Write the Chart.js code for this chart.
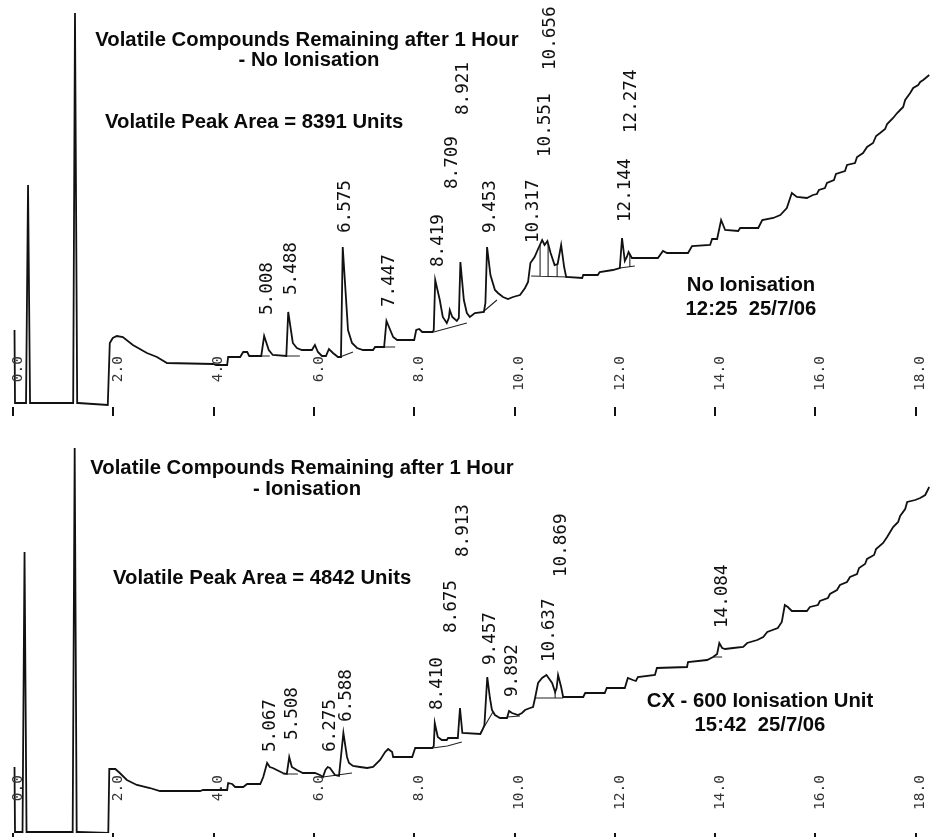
<!DOCTYPE html>
<html>
<head>
<meta charset="utf-8">
<script src="https://cdn.jsdelivr.net/npm/chart.js@4.4.1/dist/chart.umd.min.js"></script>
<style>
  html, body { margin: 0; padding: 0; background: #fff; overflow: hidden; }
  #page { position: relative; width: 930px; height: 837px; overflow: hidden; background: #fff; }
  canvas { position: absolute; left: 0; }
  .t { position: absolute; font: bold 20.3px "Liberation Sans", Arial, sans-serif; line-height: 20.3px; color: #0a0a0a; white-space: pre; }
  .c { width: 600px; text-align: center; }
</style>
</head>
<body>
<div id="page">
  <canvas id="runA" width="930" height="420" style="top:0"></canvas>
  <canvas id="runB" width="930" height="427" style="top:420px"></canvas>

  <div class="t c" style="left:7px;top:29px">Volatile Compounds Remaining after 1 Hour</div>
  <div class="t c" style="left:9px;top:49px">- No Ionisation</div>
  <div class="t" style="left:105px;top:111px">Volatile Peak Area = 8391 Units</div>
  <div class="t c" style="left:451px;top:274px">No Ionisation</div>
  <div class="t c" style="left:451px;top:298px">12:25  25/7/06</div>

  <div class="t c" style="left:2px;top:457px">Volatile Compounds Remaining after 1 Hour</div>
  <div class="t c" style="left:7px;top:478px">- Ionisation</div>
  <div class="t" style="left:113px;top:567px">Volatile Peak Area = 4842 Units</div>
  <div class="t c" style="left:460px;top:690px">CX - 600 Ionisation Unit</div>
  <div class="t c" style="left:460px;top:714px">15:42  25/7/06</div>
</div>

<script>
// Retention-time axis (minutes)
const timeTicks = [0, 2, 4, 6, 8, 10, 12, 14, 16, 18];

// Run A: no ionisation, 12:25 25/7/06
const runATime = [
  0.03, 0.04, 0.26, 0.30, 0.34, 1.20, 1.236, 1.28, 1.30, 1.89,
  1.93, 1.99, 2.07, 2.19, 2.39, 2.67, 2.87, 3.07, 3.99, 4.05,
  4.27, 4.29, 4.53, 4.59, 4.67, 4.71, 4.95, 5.008, 5.10, 5.18,
  5.45, 5.488, 5.58, 5.66, 5.76, 5.96, 6.02, 6.08, 6.16, 6.24,
  6.30, 6.38, 6.48, 6.54, 6.575, 6.68, 6.76, 6.86, 6.98, 7.18,
  7.22, 7.40, 7.447, 7.58, 7.66, 8.00, 8.04, 8.10, 8.16, 8.37,
  8.39, 8.419, 8.51, 8.57, 8.65, 8.69, 8.709, 8.76, 8.85, 8.89,
  8.921, 8.99, 9.05, 9.11, 9.21, 9.39, 9.42, 9.453, 9.52, 9.61,
  9.67, 9.77, 9.87, 9.97, 10.11, 10.21, 10.27, 10.317, 10.40, 10.47,
  10.551, 10.60, 10.656, 10.72, 10.80, 10.86, 10.93, 10.99, 11.03, 11.35,
  11.37, 11.66, 11.70, 11.96, 12.10, 12.144, 12.20, 12.24, 12.274, 12.34,
  12.86, 12.96, 13.04, 13.46, 13.54, 13.90, 13.94, 14.04, 14.12, 14.20,
  14.46, 14.50, 14.86, 14.94, 15.16, 15.30, 15.43, 15.53, 15.63, 15.83,
  15.95, 16.03, 16.07, 16.19, 16.23, 16.37, 16.41, 16.59, 16.63, 16.79,
  16.83, 16.95, 17.03, 17.15, 17.21, 17.29, 17.39, 17.43, 17.55, 17.63,
  17.69, 17.75, 17.79, 17.89, 17.95, 18.05, 18.09, 18.15, 18.27
];
const runASignal = [
  7.3, 0.0, 0.0, 21.8, 0.0, 0.0, 39.0, 0.0, 0.0, -0.2,
  6.0, 6.5, 6.7, 6.6, 5.8, 5.0, 4.6, 4.0, 3.9, 3.8,
  3.8, 4.6, 4.6, 5.1, 5.1, 4.7, 4.7, 6.7, 5.3, 4.8,
  4.7, 9.1, 6.0, 5.5, 5.3, 5.3, 5.8, 5.1, 4.7, 4.7,
  5.4, 5.0, 4.6, 4.6, 15.6, 7.3, 6.0, 5.5, 5.3, 5.3,
  5.6, 5.6, 8.2, 6.6, 6.3, 6.3, 7.3, 7.4, 7.1, 7.1,
  7.3, 12.3, 10.3, 8.6, 8.0, 8.5, 9.3, 8.6, 8.2, 8.5,
  14.1, 10.3, 9.0, 8.6, 9.0, 9.1, 10.0, 15.6, 12.8, 11.3,
  11.0, 10.6, 10.4, 10.6, 10.8, 11.5, 12.1, 14.0, 14.6, 15.4,
  16.3, 15.8, 16.2, 15.0, 13.8, 13.9, 15.8, 13.6, 12.6, 12.5,
  12.8, 12.8, 13.1, 13.3, 13.5, 16.5, 14.2, 14.6, 15.1, 14.5,
  14.5, 15.2, 15.0, 15.0, 15.7, 15.8, 16.4, 16.4, 18.3, 17.3,
  17.2, 17.5, 17.5, 18.3, 18.5, 18.8, 19.5, 21.0, 20.6, 20.5,
  20.8, 20.9, 21.3, 21.5, 22.0, 22.3, 22.9, 23.2, 23.8, 24.0,
  24.6, 25.0, 25.6, 26.0, 26.7, 27.0, 27.4, 27.9, 28.5, 29.0,
  29.3, 29.6, 30.3, 31.0, 31.5, 31.8, 32.1, 32.3, 32.8
];
const runAPeakTimes = [5.008, 5.488, 6.575, 7.447, 8.419, 8.709, 8.921, 9.453, 10.317, 10.551, 10.656, 12.144, 12.274];
// signal level at which each retention-time tag starts
const runATagLevel = [8.8, 10.8, 17.0, 9.6, 13.6, 21.4, 28.8, 17.0, 16.0, 24.6, 33.3, 18.1, 27.0];
// integration baselines and peak-split drop lines
const runABaselines = [
  [[4.95, 4.7], [5.12, 4.7]],
  [[5.42, 4.7], [5.72, 4.7]],
  [[6.52, 4.6], [6.78, 5.1]],
  [[7.38, 5.6], [7.62, 5.6]],
  [[8.39, 7.1], [9.05, 8.0]],
  [[9.37, 9.1], [9.65, 10.3]],
  [[10.33, 12.7], [11.07, 12.6]],
  [[10.51, 12.7], [10.51, 15.8]],
  [[10.67, 12.7], [10.67, 15.9]],
  [[10.85, 12.6], [10.85, 13.9]],
  [[12.10, 13.5], [12.40, 13.7]],
  [[12.30, 13.6], [12.30, 14.9]]
];

// Run B: CX-600 ionisation unit, 15:42 25/7/06
const runBTime = [
  0.03, 0.04, 0.19, 0.23, 0.27, 1.19, 1.23, 1.27, 1.29, 1.90,
  1.92, 2.04, 2.13, 2.27, 2.47, 2.73, 2.93, 3.73, 3.79, 4.27,
  4.29, 4.37, 4.43, 4.59, 4.67, 4.93, 4.99, 5.067, 5.12, 5.18,
  5.26, 5.38, 5.46, 5.508, 5.56, 5.66, 5.78, 6.02, 6.12, 6.18,
  6.23, 6.275, 6.32, 6.42, 6.50, 6.588, 6.66, 6.70, 6.78, 6.92,
  7.06, 7.18, 7.32, 7.42, 7.48, 7.56, 7.58, 7.96, 8.02, 8.36,
  8.39, 8.410, 8.47, 8.55, 8.65, 8.675, 8.87, 8.913, 8.96, 9.32,
  9.36, 9.40, 9.457, 9.51, 9.55, 9.61, 9.71, 9.85, 9.892, 9.95,
  10.07, 10.15, 10.21, 10.31, 10.37, 10.41, 10.47, 10.55, 10.637, 10.68,
  10.75, 10.81, 10.84, 10.869, 10.93, 10.97, 11.37, 11.41, 11.80, 11.84,
  12.20, 12.26, 12.36, 12.42, 12.46, 12.80, 12.84, 13.44, 13.46, 13.84,
  13.96, 14.04, 14.084, 14.14, 14.20, 14.36, 14.56, 14.64, 14.84, 14.96,
  15.04, 15.25, 15.33, 15.39, 15.45, 15.53, 15.83, 15.89, 16.05, 16.09,
  16.25, 16.29, 16.43, 16.49, 16.63, 16.69, 16.83, 16.87, 16.99, 17.03,
  17.17, 17.21, 17.35, 17.43, 17.49, 17.55, 17.65, 17.69, 17.79, 17.83,
  17.99, 18.09, 18.19, 18.27
];
const runBSignal = [
  6.5, 0.0, 0.0, 28.0, 0.0, 0.0, 38.4, 0.0, 0.0, -0.1,
  6.3, 6.3, 5.9, 5.2, 4.7, 4.4, 4.1, 4.1, 4.2, 4.2,
  4.9, 4.8, 4.5, 4.5, 4.8, 4.8, 5.5, 6.9, 6.5, 6.4,
  6.2, 5.9, 5.8, 7.5, 6.5, 6.2, 5.9, 5.9, 5.7, 5.5,
  6.2, 6.5, 6.4, 5.7, 5.6, 9.9, 7.5, 6.9, 6.6, 6.5,
  6.4, 6.5, 7.2, 8.0, 8.3, 8.0, 7.5, 7.5, 8.4, 8.4,
  8.6, 10.9, 9.5, 9.2, 9.2, 9.4, 9.4, 12.4, 9.9, 9.8,
  10.2, 10.7, 15.5, 13.4, 12.2, 11.7, 11.4, 11.4, 12.1, 11.9,
  11.7, 11.9, 12.2, 12.4, 12.5, 13.4, 14.9, 15.4, 15.7, 15.4,
  14.9, 14.0, 14.4, 15.7, 14.5, 13.5, 13.5, 13.9, 13.9, 14.4,
  14.4, 15.4, 15.2, 15.1, 15.5, 15.7, 16.4, 16.5, 17.0, 17.2,
  17.5, 17.8, 18.9, 18.4, 18.3, 18.4, 18.5, 18.9, 19.2, 19.5,
  20.0, 20.4, 21.0, 22.7, 22.5, 22.1, 22.1, 22.5, 22.7, 23.1,
  23.4, 23.8, 24.2, 24.7, 25.0, 25.5, 25.8, 26.4, 26.8, 27.3,
  27.7, 28.3, 28.9, 29.5, 30.0, 30.5, 31.0, 31.6, 32.3, 33.0,
  33.2, 33.4, 33.7, 34.5
];
const runBPeakTimes = [5.067, 5.508, 6.275, 6.588, 8.410, 8.675, 8.913, 9.457, 9.892, 10.637, 10.869, 14.084];
const runBTagLevel = [8.0, 9.2, 8.0, 11.0, 12.2, 19.9, 27.5, 16.7, 13.5, 17.0, 25.5, 20.4];
const runBBaselines = [
  [[5.38, 5.8], [5.68, 5.8]],
  [[6.18, 5.5], [6.76, 5.9]],
  [[8.36, 8.4], [8.66, 8.6], [8.95, 9.0]],
  [[9.31, 9.8], [9.57, 12.0]],
  [[9.85, 11.5], [10.11, 11.6]],
  [[10.41, 13.4], [10.97, 13.4]],
  [[10.81, 13.4], [10.81, 14.0]],
  [[13.96, 17.5], [14.14, 17.5]]
];

function toPoints(times, values) {
  return times.map((t, i) => ({ x: t, y: values[i] }));
}
function toSegments(list) {
  const out = [];
  list.forEach(seg => {
    seg.forEach(p => out.push({ x: p[0], y: p[1] }));
    out.push({ x: seg[seg.length - 1][0], y: null });
  });
  return out;
}

// rotated retention-time tags and rotated time-axis numbers, placed through the chart scales
const tagPlugin = {
  id: 'rtTags',
  afterDatasetsDraw(chart, args, opts) {
    const { ctx } = chart;
    const xs = chart.scales.x, ys = chart.scales.y;
    ctx.save();
    ctx.fillStyle = '#111';
    ctx.font = '17.6px "DejaVu Sans Mono", monospace';
    ctx.textBaseline = 'middle';
    ctx.textAlign = 'left';
    opts.times.forEach((t, i) => {
      ctx.save();
      ctx.translate(xs.getPixelForValue(t) + 3, ys.getPixelForValue(opts.levels[i]));
      ctx.rotate(-Math.PI / 2);
      ctx.fillText(t.toFixed(3), 0, 0);
      ctx.restore();
    });
    ctx.font = '14.5px "DejaVu Sans Mono", monospace';
    ctx.fillStyle = '#333';
    ctx.textAlign = 'right';
    timeTicks.forEach(v => {
      ctx.save();
      ctx.translate(xs.getPixelForValue(v) + 5, ys.getPixelForValue(opts.tickLevel));
      ctx.rotate(-Math.PI / 2);
      ctx.fillText(v.toFixed(1), 0, 0);
      ctx.restore();
    });
    ctx.restore();
  }
};

function makeRun(canvasId, times, signal, baselines, peakTimes, tagLevels, yMin, yMax, tickLen, tickLevel) {
  return new Chart(document.getElementById(canvasId), {
    type: 'line',
    data: {
      datasets: [
        {
          data: toPoints(times, signal),
          borderColor: '#111',
          borderWidth: 1.8,
          pointRadius: 0,
          tension: 0,
          fill: false
        },
        {
          data: toSegments(baselines),
          borderColor: '#222',
          borderWidth: 1.1,
          pointRadius: 0,
          tension: 0,
          fill: false,
          spanGaps: false
        }
      ]
    },
    options: {
      responsive: false,
      animation: false,
      devicePixelRatio: 1,
      layout: { padding: { left: 0, right: 0, top: 0, bottom: 4 }, autoPadding: false },
      plugins: {
        legend: { display: false },
        tooltip: { enabled: false },
        rtTags: { times: peakTimes, levels: tagLevels, tickLevel: tickLevel }
      },
      scales: {
        x: {
          type: 'linear',
          min: -0.2592,
          max: 18.285,
          afterBuildTicks: axis => { axis.ticks = timeTicks.map(v => ({ value: v })); },
          ticks: { display: false },
          grid: { display: true, drawOnChartArea: false, drawTicks: true, tickLength: tickLen, color: '#111', lineWidth: 2 },
          border: { display: false }
        },
        y: { display: false, min: yMin, max: yMax }
      }
    },
    plugins: [tagPlugin]
  });
}

makeRun('runA', runATime, runASignal, runABaselines, runAPeakTimes, runATagLevel, -0.4, 40.3, 9, 4.7);
makeRun('runB', runBTime, runBSignal, runBBaselines, runBPeakTimes, runBTagLevel, -0.1, 41.2, 10, 5.7);
</script>
</body>
</html>
